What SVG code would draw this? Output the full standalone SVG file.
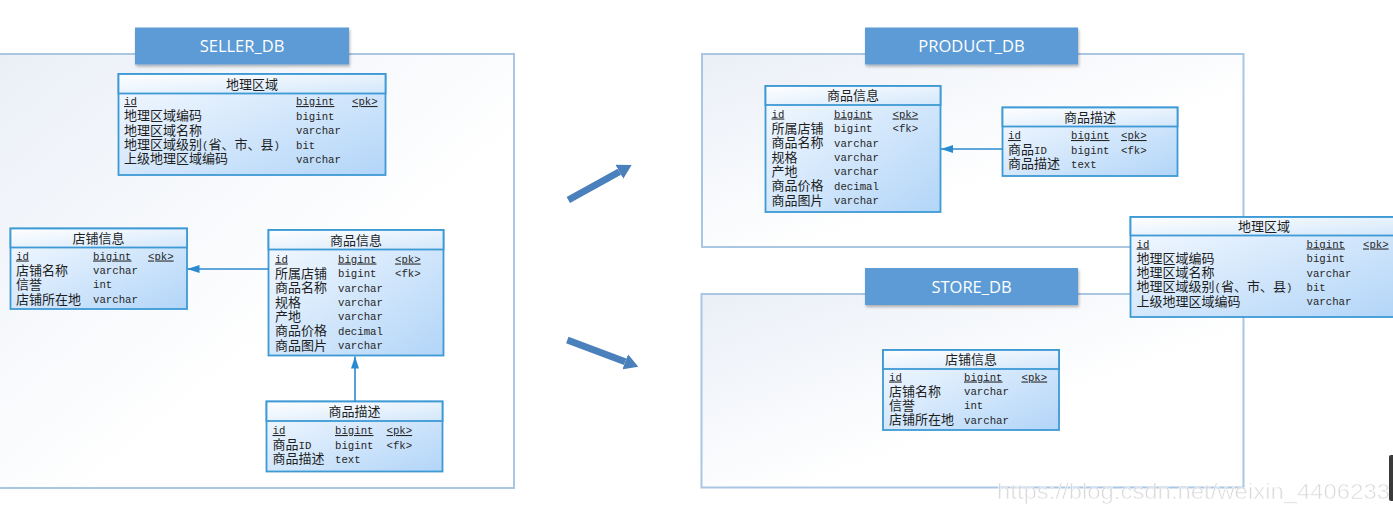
<svg xmlns="http://www.w3.org/2000/svg" width="1393" height="516" viewBox="0 0 1393 516">
<defs>
<linearGradient id="gBody" x1="0" y1="0" x2="1" y2="1"><stop offset="0" stop-color="#f6faff"/><stop offset="1" stop-color="#b2d5f8"/></linearGradient>
<linearGradient id="gHead" x1="0" y1="0" x2="1" y2="1"><stop offset="0" stop-color="#ffffff"/><stop offset="1" stop-color="#d3e7fb"/></linearGradient>
<linearGradient id="gCont" x1="0" y1="0" x2="1" y2="1"><stop offset="0" stop-color="#eaeff7"/><stop offset="0.6" stop-color="#ffffff"/><stop offset="1" stop-color="#ffffff"/></linearGradient>
<filter id="sh" x="-10%" y="-20%" width="130%" height="160%"><feGaussianBlur in="SourceAlpha" stdDeviation="1.5"/><feOffset dx="1" dy="2" result="b"/><feComponentTransfer><feFuncA type="linear" slope="0.3"/></feComponentTransfer><feMerge><feMergeNode/><feMergeNode in="SourceGraphic"/></feMerge></filter>
<marker id="ah" markerUnits="userSpaceOnUse" viewBox="0 0 12 10" refX="12" refY="5" markerWidth="12" markerHeight="10" orient="auto"><path d="M0,1 L12,5 L0,9 z" fill="#2a8ad0"/></marker>
<marker id="big" markerUnits="userSpaceOnUse" viewBox="0 -8 14 16" refX="0" refY="0" markerWidth="14" markerHeight="16" orient="auto"><path d="M0,-8 L14,0 L0,8 z" fill="#4a80bb"/></marker>
<style>
.cont{fill:url(#gCont);stroke:#a9c6e3;stroke-width:2}
.lab{fill:#5b9bd5}
.labt{font-family:"Open Sans","Liberation Sans",sans-serif;font-size:16.5px;fill:#ffffff;text-anchor:middle}
.body{fill:url(#gBody);stroke:#3d9ad4;stroke-width:1.8}
.head{fill:url(#gHead);stroke:#3d9ad4;stroke-width:1.8}
.t{font-family:"Liberation Mono","Noto Sans CJK SC",monospace;font-size:13px;fill:#1e1e1e}
.ty{font-family:"Liberation Mono","Noto Sans CJK SC",monospace;font-size:10.7px;fill:#262626}
.ti{font-family:"Liberation Mono","Noto Sans CJK SC",monospace;font-size:13px;fill:#1e1e1e;text-anchor:middle}
.u{text-decoration:underline}
.cn{fill:none;stroke:#2a8ad0;stroke-width:1.6}
.bigarrow{fill:none;stroke:#4a80bb;stroke-width:7}
</style>
</defs>

<!-- containers -->
<g id="seller_db">
<rect class="cont" x="-10" y="54" width="524" height="434"/>
<rect class="lab" x="135" y="27.5" width="214" height="37" filter="url(#sh)"/>
<text class="labt" x="242" y="52">SELLER_DB</text>
</g>
<g id="product_db">
<rect class="cont" x="702" y="54" width="541.5" height="193"/>
<rect class="lab" x="865" y="27.5" width="213" height="37" filter="url(#sh)"/>
<text class="labt" x="971.5" y="52">PRODUCT_DB</text>
</g>
<g id="store_db">
<rect class="cont" x="701.5" y="294" width="542" height="193.5"/>
<rect class="lab" x="865" y="268" width="213" height="37" filter="url(#sh)"/>
<text class="labt" x="971.5" y="292.5">STORE_DB</text>
</g>

<!-- seller 地理区域 -->
<g id="seller_region">
<rect class="body" x="118.5" y="74" width="267" height="101"/>
<rect class="head" x="118.5" y="74" width="267" height="19.5"/>
<text class="ti" x="252" y="88.5">地理区域</text>
<text class="ty u" x="124" y="105">id</text><text class="ty u" x="296" y="105">bigint</text><text class="ty u" x="352" y="105">&lt;pk&gt;</text>
<text class="t" x="124" y="120">地理区域编码</text><text class="ty" x="296" y="119.5">bigint</text>
<text class="t" x="124" y="134.5">地理区域名称</text><text class="ty" x="296" y="134">varchar</text>
<text class="t" x="124" y="149">地理区域级别<tspan class="ty">(</tspan>省、市、县<tspan class="ty">)</tspan></text><text class="ty" x="296" y="148.5">bit</text>
<text class="t" x="124" y="163">上级地理区域编码</text><text class="ty" x="296" y="162.5">varchar</text>
</g>

<!-- seller 店铺信息 -->
<g id="seller_store">
<rect class="body" x="10.5" y="228.5" width="176.5" height="80.5"/>
<rect class="head" x="10.5" y="228.5" width="176.5" height="19"/>
<text class="ti" x="98.5" y="242.5">店铺信息</text>
<text class="ty u" x="16" y="259.5">id</text><text class="ty u" x="93" y="259.5">bigint</text><text class="ty u" x="148" y="259.5">&lt;pk&gt;</text>
<text class="t" x="16" y="275">店铺名称</text><text class="ty" x="93" y="274">varchar</text>
<text class="t" x="16" y="288.5">信誉</text><text class="ty" x="93" y="288">int</text>
<text class="t" x="16" y="303.5">店铺所在地</text><text class="ty" x="93" y="302.5">varchar</text>
</g>

<!-- seller 商品信息 -->
<g id="seller_goods">
<rect class="body" x="268.5" y="230" width="175" height="125.5"/>
<rect class="head" x="268.5" y="230" width="175" height="19.5"/>
<text class="ti" x="356" y="244.5">商品信息</text>
<text class="ty u" x="275" y="262.5">id</text><text class="ty u" x="338" y="262.5">bigint</text><text class="ty u" x="395" y="262.5">&lt;pk&gt;</text>
<text class="t" x="275" y="277.5">所属店铺</text><text class="ty" x="338" y="277">bigint</text><text class="ty" x="395" y="277">&lt;fk&gt;</text>
<text class="t" x="275" y="292">商品名称</text><text class="ty" x="338" y="291.5">varchar</text>
<text class="t" x="275" y="306.5">规格</text><text class="ty" x="338" y="306">varchar</text>
<text class="t" x="275" y="321">产地</text><text class="ty" x="338" y="320">varchar</text>
<text class="t" x="275" y="335">商品价格</text><text class="ty" x="338" y="334.5">decimal</text>
<text class="t" x="275" y="349.5">商品图片</text><text class="ty" x="338" y="349">varchar</text>
</g>

<!-- seller 商品描述 -->
<g id="seller_desc">
<rect class="body" x="266.5" y="401.5" width="176" height="70"/>
<rect class="head" x="266.5" y="401.5" width="176" height="19.5"/>
<text class="ti" x="354.5" y="416">商品描述</text>
<text class="ty u" x="272.5" y="434">id</text><text class="ty u" x="335" y="434">bigint</text><text class="ty u" x="386.5" y="434">&lt;pk&gt;</text>
<text class="t" x="272.5" y="449">商品<tspan class="ty">ID</tspan></text><text class="ty" x="335" y="448.5">bigint</text><text class="ty" x="386.5" y="448.5">&lt;fk&gt;</text>
<text class="t" x="272.5" y="463">商品描述</text><text class="ty" x="335" y="462.5">text</text>
</g>

<!-- product 商品信息 -->
<g id="product_goods">
<rect class="body" x="765.5" y="86" width="175" height="126"/>
<rect class="head" x="765.5" y="86" width="175" height="19"/>
<text class="ti" x="853" y="100">商品信息</text>
<text class="ty u" x="771.5" y="117.5">id</text><text class="ty u" x="834" y="117.5">bigint</text><text class="ty u" x="892.5" y="117.5">&lt;pk&gt;</text>
<text class="t" x="771.5" y="132.5">所属店铺</text><text class="ty" x="834" y="132">bigint</text><text class="ty" x="892.5" y="132">&lt;fk&gt;</text>
<text class="t" x="771.5" y="147">商品名称</text><text class="ty" x="834" y="146.5">varchar</text>
<text class="t" x="771.5" y="161.5">规格</text><text class="ty" x="834" y="160.5">varchar</text>
<text class="t" x="771.5" y="175.5">产地</text><text class="ty" x="834" y="175">varchar</text>
<text class="t" x="771.5" y="190">商品价格</text><text class="ty" x="834" y="189.5">decimal</text>
<text class="t" x="771.5" y="204.5">商品图片</text><text class="ty" x="834" y="204">varchar</text>
</g>

<!-- product 商品描述 -->
<g id="product_desc">
<rect class="body" x="1002.5" y="107.5" width="175" height="68.5"/>
<rect class="head" x="1002.5" y="107.5" width="175" height="19"/>
<text class="ti" x="1090" y="121.5">商品描述</text>
<text class="ty u" x="1008" y="139">id</text><text class="ty u" x="1071" y="139">bigint</text><text class="ty u" x="1121" y="139">&lt;pk&gt;</text>
<text class="t" x="1008" y="154">商品<tspan class="ty">ID</tspan></text><text class="ty" x="1071" y="153.5">bigint</text><text class="ty" x="1121" y="153.5">&lt;fk&gt;</text>
<text class="t" x="1008" y="168">商品描述</text><text class="ty" x="1071" y="167.5">text</text>
</g>

<!-- shared 地理区域 -->
<g id="shared_region">
<rect class="body" x="1130.5" y="217" width="268" height="100"/>
<rect class="head" x="1130.5" y="217" width="268" height="18.5"/>
<text class="ti" x="1264" y="231">地理区域</text>
<text class="ty u" x="1136.5" y="247.5">id</text><text class="ty u" x="1306.5" y="247.5">bigint</text><text class="ty u" x="1363" y="247.5">&lt;pk&gt;</text>
<text class="t" x="1136.5" y="262.5">地理区域编码</text><text class="ty" x="1306.5" y="262">bigint</text>
<text class="t" x="1136.5" y="277">地理区域名称</text><text class="ty" x="1306.5" y="276.5">varchar</text>
<text class="t" x="1136.5" y="291">地理区域级别<tspan class="ty">(</tspan>省、市、县<tspan class="ty">)</tspan></text><text class="ty" x="1306.5" y="290.5">bit</text>
<text class="t" x="1136.5" y="305.5">上级地理区域编码</text><text class="ty" x="1306.5" y="305">varchar</text>
</g>

<!-- store 店铺信息 -->
<g id="store_store">
<rect class="body" x="883" y="350" width="176" height="80"/>
<rect class="head" x="883" y="350" width="176" height="19"/>
<text class="ti" x="971" y="364">店铺信息</text>
<text class="ty u" x="889" y="380.5">id</text><text class="ty u" x="964" y="380.5">bigint</text><text class="ty u" x="1021.5" y="380.5">&lt;pk&gt;</text>
<text class="t" x="889" y="395.5">店铺名称</text><text class="ty" x="964" y="395">varchar</text>
<text class="t" x="889" y="409.5">信誉</text><text class="ty" x="964" y="409">int</text>
<text class="t" x="889" y="424">店铺所在地</text><text class="ty" x="964" y="423.5">varchar</text>
</g>

<!-- connectors -->
<g id="connectors">
<line class="cn" x1="268.5" y1="269" x2="187.5" y2="269" marker-end="url(#ah)"/>
<line class="cn" x1="355" y1="401.5" x2="355" y2="356.5" marker-end="url(#ah)"/>
<line class="cn" x1="1002.5" y1="149" x2="941" y2="149" marker-end="url(#ah)"/>
<line class="bigarrow" x1="568.3" y1="200" x2="619.4" y2="171.8" marker-end="url(#big)"/>
<line class="bigarrow" x1="567.3" y1="340" x2="625.2" y2="361.8" marker-end="url(#big)"/>
</g>

<!-- watermark -->
<text x="997" y="499" textLength="393" lengthAdjust="spacingAndGlyphs" style="font-family:'Liberation Sans',sans-serif;font-size:22px;fill:#d4d4d4;stroke:#ffffff;stroke-width:0.6;opacity:0.85">https://blog.csdn.net/weixin_4406233</text>
<rect x="1389" y="455" width="6" height="46" rx="2" fill="#3a3a3a"/>
</svg>
